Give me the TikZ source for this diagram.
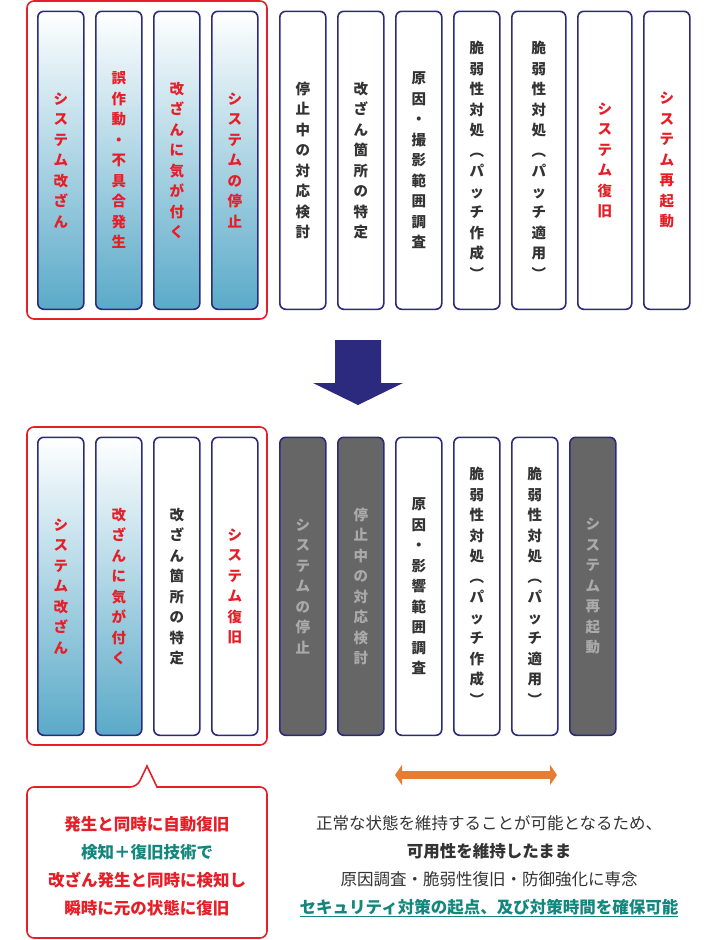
\documentclass[tikz,border=0pt]{standalone}
\usepackage{fontspec}
\setmainfont{Noto Sans CJK JP}
\definecolor{red1}{RGB}{230,30,40}
\definecolor{navy1}{RGB}{43,42,126}
\definecolor{blue1}{RGB}{90,170,200}
\definecolor{gray1}{RGB}{102,102,102}
\definecolor{gray2}{RGB}{170,170,170}
\definecolor{teal1}{RGB}{20,135,125}
\definecolor{text1}{RGB}{51,51,51}
\definecolor{orange1}{RGB}{230,125,50}
\usetikzlibrary{positioning,arrows.meta}
\tikzset{
  box/.style={draw=navy1, line width=1.6pt, rounded corners=6pt, anchor=north west,
    minimum width=46pt, minimum height=298pt, inner sep=0pt,
    font=\fontsize{14.5pt}{20.5pt}\selectfont\bfseries, align=center},
  blue/.style={box, top color=white, bottom color=blue1, text=red1},
  plain/.style={box, fill=white, text=text1},
  plainr/.style={box, fill=white, text=red1},
  grey/.style={box, fill=gray1, text=gray2},
  frame/.style={draw=red1, line width=1.6pt, rounded corners=7pt},
}
\begin{document}
\begin{tikzpicture}[x=1pt, y=-1pt]
    \useasboundingbox (0,0) rectangle (716,940);

    % before
    \draw[frame] (27,1) rectangle (267,319);
    \foreach \n/\x/\w/\s/\t in {
        t1/37/46/blue/{シ\\ス\\テ\\ム\\改\\ざ\\ん},
        t2/95/46/blue/{誤\\作\\動\\・\\不\\具\\合\\発\\生},
        t3/153/46/blue/{改\\ざ\\ん\\に\\気\\が\\付\\く},
        t4/211/46/blue/{シ\\ス\\テ\\ム\\の\\停\\止},
        t5/279/46/plain/{停\\止\\中\\の\\対\\応\\検\\討},
        t6/337/46/plain/{改\\ざ\\ん\\箇\\所\\の\\特\\定},
        t7/395/46/plain/{原\\因\\・\\撮\\影\\範\\囲\\調\\査},
        t8/453/46/plain/{脆\\弱\\性\\対\\処\\︵\\パ\\ッ\\チ\\作\\成\\︶},
        t9/511/54/plain/{脆\\弱\\性\\対\\処\\︵\\パ\\ッ\\チ\\適\\用\\︶},
        t10/577/54/plainr/{シ\\ス\\テ\\ム\\復\\旧},
        t11/643/46/plainr/{シ\\ス\\テ\\ム\\再\\起\\動}}
        \node[\s, minimum width=\w] (\n) at (\x,10.5) {\t};

    % arrow down
    \fill[navy1] (335,340) -- (381,340) -- (381,383) -- (403,383) -- (358,405)
        -- (313,383) -- (335,383) -- cycle;

    % after
    \draw[frame] (27,427) rectangle (267,745);
    \foreach \n/\x/\s/\t in {
        b1/37/blue/{シ\\ス\\テ\\ム\\改\\ざ\\ん},
        b2/95/blue/{改\\ざ\\ん\\に\\気\\が\\付\\く},
        b3/153/plain/{改\\ざ\\ん\\箇\\所\\の\\特\\定},
        b4/211/plainr/{シ\\ス\\テ\\ム\\復\\旧},
        b5/279/grey/{シ\\ス\\テ\\ム\\の\\停\\止},
        b6/337/grey/{停\\止\\中\\の\\対\\応\\検\\討},
        b7/395/plain/{原\\因\\・\\影\\響\\範\\囲\\調\\査},
        b8/453/plain/{脆\\弱\\性\\対\\処\\︵\\パ\\ッ\\チ\\作\\成\\︶},
        b9/511/plain/{脆\\弱\\性\\対\\処\\︵\\パ\\ッ\\チ\\適\\用\\︶},
        b10/569/grey/{シ\\ス\\テ\\ム\\再\\起\\動}}
        \node[\s] (\n) at (\x,436.5) {\t};

    % callout
    \draw[frame, fill=white] (27,787) -- (137,787) [sharp corners] -- (147,766) -- (157,787)
        [rounded corners=7pt] -- (267,787) -- (267,938) -- (27,938) -- cycle;
    \node[align=center, font=\fontsize{16.5pt}{28pt}\selectfont\bfseries, text=red1]
        (note) at (147,866) {発生と同時に自動復旧\\\textcolor{teal1}{検知＋復旧技術で}\\
        改ざん発生と同時に検知し\\瞬時に元の状態に復旧};

    % span arrow
    \coordinate (s1) at (395,775);
    \coordinate (s2) at (557,775);
    \draw[orange1, line width=8pt, {Triangle[width=20pt,length=7pt]}-{Triangle[width=20pt,length=7pt]}] (s1) -- (s2);

    \node[align=center, font=\fontsize{16.5pt}{28pt}\selectfont, text=text1]
        (gain) at (489,866) {正常な状態を維持することが可能となるため、\\
        \textbf{可用性を維持したまま}\\原因調査・脆弱性復旧・防御強化に専念\\
        \textcolor{teal1}{\bfseries\underline{セキュリティ対策の起点、及び対策時間を確保可能}}};
\end{tikzpicture}
\end{document}
